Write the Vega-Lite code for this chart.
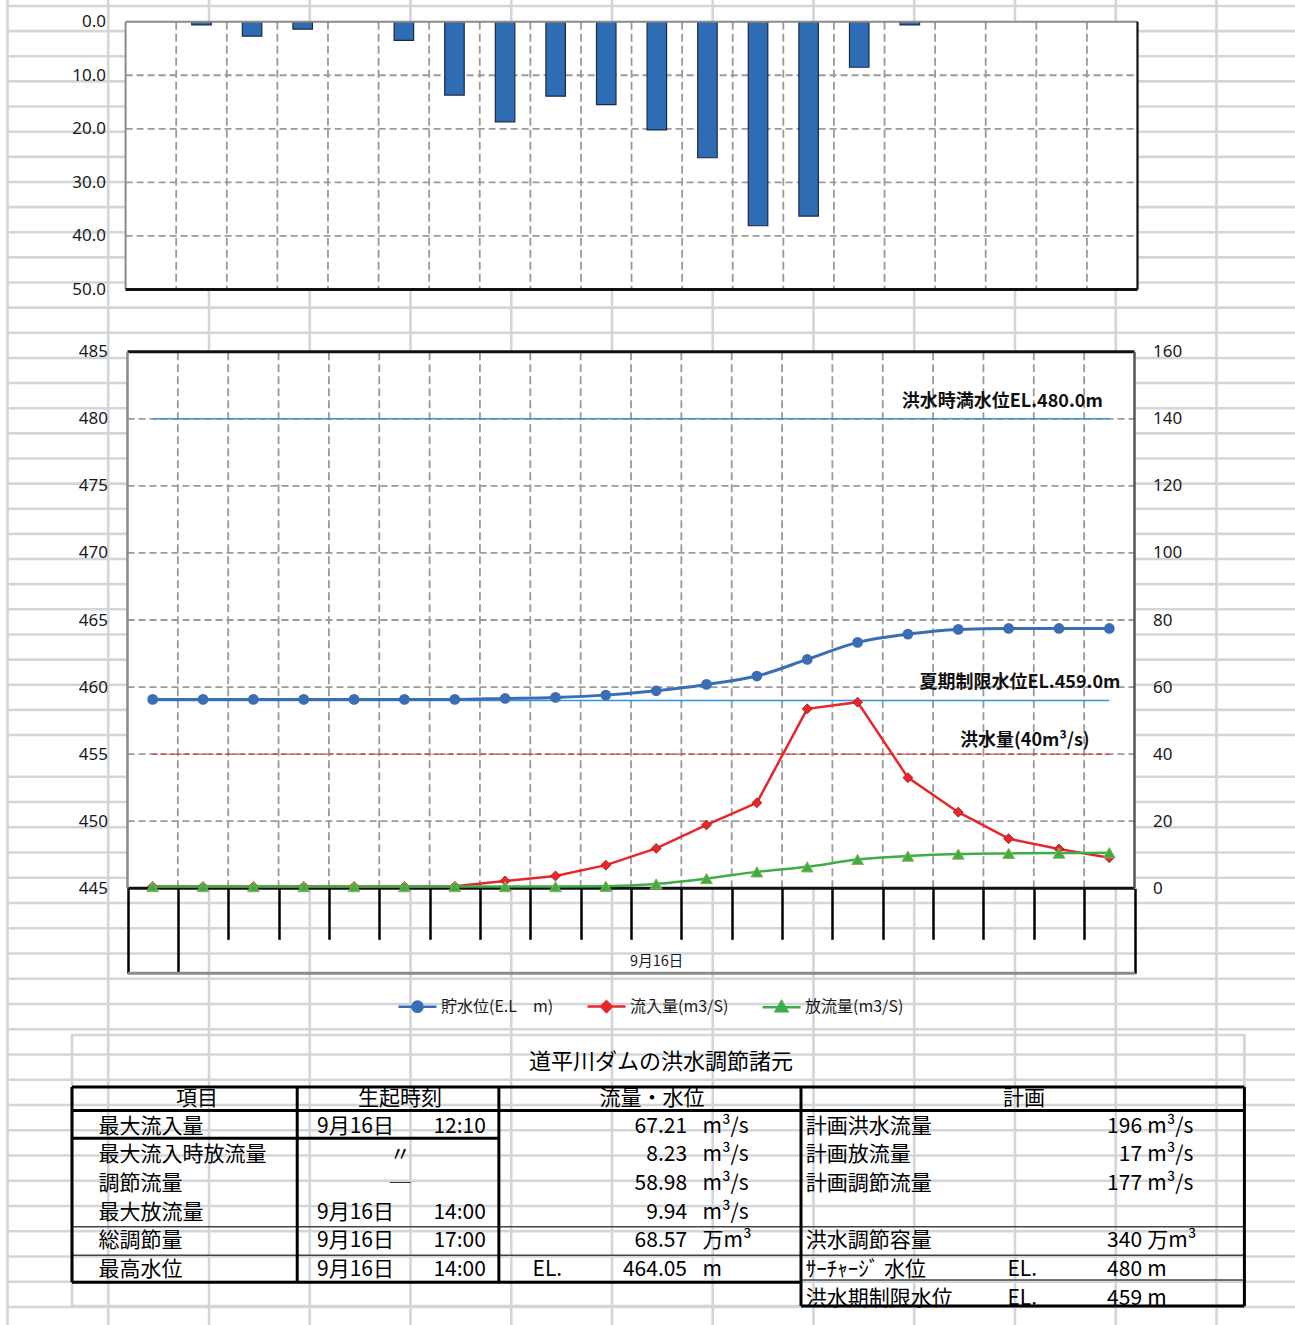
{
  "$schema": "https://vega.github.io/schema/vega-lite/v6.json",
  "width": 1295,
  "height": 1325,
  "autosize": {"type": "none"},
  "padding": 0,
  "background": "#ffffff",
  "config": {
    "view": {"stroke": null},
    "axis": {"labelFont": "Noto Sans", "labelFontSize": 17, "labelColor": "#1a1a1a", "grid": false, "labelFlush": false, "labelOverlap": false, "labelBound": false},
    "legend": {"labelFont": "Noto Sans CJK JP", "labelFontSize": 16, "labelColor": "#1a1a1a"}
  },
  "datasets": {
    "sheetCols": [{"c":0},{"c":1},{"c":2},{"c":3},{"c":4},{"c":5},{"c":6},{"c":7},{"c":8},{"c":9},{"c":10},{"c":11},{"c":12}],
    "sheetRows": [{"k":0},{"k":1},{"k":2},{"k":3},{"k":4},{"k":5},{"k":6},{"k":7},{"k":8},{"k":9},{"k":10},{"k":11},{"k":12},{"k":13},{"k":14},{"k":15},{"k":16},{"k":17},{"k":18},{"k":19},{"k":20},{"k":21},{"k":22},{"k":23},{"k":24},{"k":25},{"k":26},{"k":27},{"k":28},{"k":29},{"k":30},{"k":31},{"k":32},{"k":33},{"k":34},{"k":35},{"k":36},{"k":37},{"k":38},{"k":39},{"k":40},{"k":41},{"k":42},{"k":43},{"k":44},{"k":45},{"k":46},{"k":47},{"k":48},{"k":49},{"k":50},{"k":51}],
    "series": [
      {"idx":0,"rain":0,"level":459.08,"inflow":0.5,"outflow":0.5},
      {"idx":1,"rain":0.6,"level":459.08,"inflow":0.5,"outflow":0.5},
      {"idx":2,"rain":2.7,"level":459.08,"inflow":0.5,"outflow":0.5},
      {"idx":3,"rain":1.4,"level":459.08,"inflow":0.5,"outflow":0.5},
      {"idx":4,"rain":0,"level":459.08,"inflow":0.5,"outflow":0.5},
      {"idx":5,"rain":3.5,"level":459.08,"inflow":0.5,"outflow":0.5},
      {"idx":6,"rain":13.7,"level":459.08,"inflow":0.6,"outflow":0.5},
      {"idx":7,"rain":18.7,"level":459.15,"inflow":2.2,"outflow":0.5},
      {"idx":8,"rain":13.9,"level":459.23,"inflow":3.7,"outflow":0.5},
      {"idx":9,"rain":15.5,"level":459.4,"inflow":6.9,"outflow":0.6},
      {"idx":10,"rain":20.2,"level":459.72,"inflow":11.9,"outflow":1.3},
      {"idx":11,"rain":25.4,"level":460.2,"inflow":18.9,"outflow":2.9},
      {"idx":12,"rain":38.1,"level":460.82,"inflow":25.5,"outflow":4.9},
      {"idx":13,"rain":36.3,"level":462.06,"inflow":53.5,"outflow":6.4},
      {"idx":14,"rain":8.5,"level":463.33,"inflow":55.5,"outflow":8.6},
      {"idx":15,"rain":0.6,"level":463.95,"inflow":33.0,"outflow":9.6},
      {"idx":16,"rain":0,"level":464.3,"inflow":22.7,"outflow":10.2},
      {"idx":17,"rain":0,"level":464.37,"inflow":14.8,"outflow":10.4},
      {"idx":18,"rain":0,"level":464.37,"inflow":11.7,"outflow":10.5},
      {"idx":19,"rain":0,"level":464.37,"inflow":9.1,"outflow":10.6}
    ],
    "xticks": [{"v":0.5},{"v":1.5},{"v":2.5},{"v":3.5},{"v":4.5},{"v":5.5},{"v":6.5},{"v":7.5},{"v":8.5},{"v":9.5},{"v":10.5},{"v":11.5},{"v":12.5},{"v":13.5},{"v":14.5},{"v":15.5},{"v":16.5},{"v":17.5},{"v":18.5}],
    "ticksRain": [{"v":10},{"v":20},{"v":30},{"v":40}],
    "ticksLevel": [{"v":450},{"v":455},{"v":460},{"v":465},{"v":470},{"v":475},{"v":480}],
    "refs": [
      {"kind":"full","level":480,"label":"洪水時満水位EL.480.0m"},
      {"kind":"summer","level":459,"label":"夏期制限水位EL.459.0m"},
      {"kind":"flood","flow":40,"label":"洪水量(40m³/s)"}
    ],
    "tableL": [
      {"r":1,"item":"最大流入量","date":"9月16日","time":"12:10","value":"67.21","unit":"m³/s"},
      {"r":2,"item":"最大流入時放流量","same":"〃","value":"8.23","unit":"m³/s"},
      {"r":3,"item":"調節流量","same":"─","value":"58.98","unit":"m³/s"},
      {"r":4,"item":"最大放流量","date":"9月16日","time":"14:00","value":"9.94","unit":"m³/s"},
      {"r":5,"item":"総調節量","date":"9月16日","time":"17:00","value":"68.57","unit":"万m³"},
      {"r":6,"item":"最高水位","date":"9月16日","time":"14:00","el":"EL.","value":"464.05","unit":"m"}
    ],
    "tableR": [
      {"r":1,"name":"計画洪水流量","value":"196","unit":"m³/s"},
      {"r":2,"name":"計画放流量","value":"17","unit":"m³/s"},
      {"r":3,"name":"計画調節流量","value":"177","unit":"m³/s"},
      {"r":5,"name":"洪水調節容量","value":"340","unit":"万m³"},
      {"r":6,"name":"ｻｰﾁｬｰｼﾞ 水位","el":"EL.","value":"480","unit":"m"},
      {"r":7,"name":"洪水期制限水位","el":"EL.","value":"459","unit":"m"}
    ]
  },
  "resolve": {"scale": {"x": "independent", "y": "independent"}},
  "layer": [
    {
      "layer": [
        {"data": {"name": "sheetCols"}, "mark": {"type": "rule", "stroke": "#d3d6d9", "strokeWidth": 2.6},
         "encoding": {"x": {"field": "c", "type": "quantitative", "scale": {"domain": [0, 12], "range": [7.5, 1216.5], "nice": false, "zero": false}, "axis": null}}},
        {"data": {"name": "sheetRows"}, "mark": {"type": "rule", "stroke": "#d3d6d9", "strokeWidth": 2.6},
         "encoding": {
           "y": {"field": "k", "type": "quantitative", "scale": {"domain": [0, 29, 30, 51], "range": [6, 735, 776.7, 1307], "nice": false, "zero": false}, "axis": null},
           "x": {"datum": 0, "type": "quantitative", "scale": {"domain": [0, 12], "range": [7.5, 1216.5], "nice": false, "zero": false}, "axis": null},
           "x2": {"datum": 12.78}}}
      ]
    },
    {
      "layer": [
        {"data": {"values": [{}]}, "mark": {"type": "rect", "filled": false, "stroke": "#d3d6d9", "strokeWidth": 2.6},
         "encoding": {"x": {"datum": 0, "type": "quantitative", "scale": {"domain": [0, 100], "range": [72, 1244.4], "nice": false, "zero": false}, "axis": null}, "x2": {"datum": 100},
                      "y": {"datum": -2.2, "type": "quantitative", "scale": {"domain": [0, 6], "range": [1098, 1270], "nice": false, "zero": false}, "axis": null}, "y2": {"datum": 7.26}}},
        {"data": {"values": [{}]}, "mark": {"type": "text", "align": "center", "baseline": "middle", "font": "Noto Sans CJK JP", "fontSize": 22, "color": "#000"},
         "encoding": {"x": {"datum": 50.24, "type": "quantitative", "scale": {"domain": [0, 100], "range": [72, 1244.4], "nice": false, "zero": false}, "axis": null},
                      "y": {"datum": -1.27, "type": "quantitative", "scale": {"domain": [0, 6], "range": [1098, 1270], "nice": false, "zero": false}, "axis": null},
                      "text": {"value": "道平川ダムの洪水調節諸元"}}},
        {"data": {"values": [{}]}, "mark": {"type": "text", "align": "center", "baseline": "middle", "font": "Noto Sans CJK JP", "fontSize": 21, "color": "#000"},
         "encoding": {"x": {"datum": 10.66, "type": "quantitative", "scale": {"domain": [0, 100], "range": [72, 1244.4], "nice": false, "zero": false}, "axis": null},
                      "y": {"datum": 0.05, "type": "quantitative", "scale": {"domain": [0, 6], "range": [1098, 1270], "nice": false, "zero": false}, "axis": null},
                      "text": {"value": "項目"}}},
        {"data": {"values": [{}]}, "mark": {"type": "text", "align": "center", "baseline": "middle", "font": "Noto Sans CJK JP", "fontSize": 21, "color": "#000"},
         "encoding": {"x": {"datum": 27.98, "type": "quantitative", "scale": {"domain": [0, 100], "range": [72, 1244.4], "nice": false, "zero": false}, "axis": null},
                      "y": {"datum": 0.05, "type": "quantitative", "scale": {"domain": [0, 6], "range": [1098, 1270], "nice": false, "zero": false}, "axis": null},
                      "text": {"value": "生起時刻"}}},
        {"data": {"values": [{}]}, "mark": {"type": "text", "align": "center", "baseline": "middle", "font": "Noto Sans CJK JP", "fontSize": 21, "color": "#000"},
         "encoding": {"x": {"datum": 49.47, "type": "quantitative", "scale": {"domain": [0, 100], "range": [72, 1244.4], "nice": false, "zero": false}, "axis": null},
                      "y": {"datum": 0.05, "type": "quantitative", "scale": {"domain": [0, 6], "range": [1098, 1270], "nice": false, "zero": false}, "axis": null},
                      "text": {"value": "流量・水位"}}},
        {"data": {"values": [{}]}, "mark": {"type": "text", "align": "center", "baseline": "middle", "font": "Noto Sans CJK JP", "fontSize": 21, "color": "#000"},
         "encoding": {"x": {"datum": 81.2, "type": "quantitative", "scale": {"domain": [0, 100], "range": [72, 1244.4], "nice": false, "zero": false}, "axis": null},
                      "y": {"datum": 0.05, "type": "quantitative", "scale": {"domain": [0, 6], "range": [1098, 1270], "nice": false, "zero": false}, "axis": null},
                      "text": {"value": "計画"}}},
        {"data": {"name": "tableL"}, "transform": [{"filter": "isValid(datum.item)"}], "mark": {"type": "text", "align": "left", "baseline": "middle", "font": "Noto Sans CJK JP", "fontSize": 21, "color": "#000"},
         "encoding": {"x": {"datum": 2.25, "type": "quantitative", "scale": {"domain": [0, 100], "range": [72, 1244.4], "nice": false, "zero": false}, "axis": null},
                      "y": {"field": "r", "type": "quantitative", "scale": {"domain": [0, 6], "range": [1098, 1270], "nice": false, "zero": false}, "axis": null},
                      "text": {"field": "item"}}},
        {"data": {"name": "tableL"}, "transform": [{"filter": "isValid(datum.date)"}], "mark": {"type": "text", "align": "left", "baseline": "middle", "font": "Noto Sans CJK JP", "fontSize": 21, "color": "#000"},
         "encoding": {"x": {"datum": 20.9, "type": "quantitative", "scale": {"domain": [0, 100], "range": [72, 1244.4], "nice": false, "zero": false}, "axis": null},
                      "y": {"field": "r", "type": "quantitative", "scale": {"domain": [0, 6], "range": [1098, 1270], "nice": false, "zero": false}, "axis": null},
                      "text": {"field": "date"}}},
        {"data": {"name": "tableL"}, "transform": [{"filter": "isValid(datum.time)"}], "mark": {"type": "text", "align": "right", "baseline": "middle", "font": "Noto Sans CJK JP", "fontSize": 21, "color": "#000"},
         "encoding": {"x": {"datum": 35.3, "type": "quantitative", "scale": {"domain": [0, 100], "range": [72, 1244.4], "nice": false, "zero": false}, "axis": null},
                      "y": {"field": "r", "type": "quantitative", "scale": {"domain": [0, 6], "range": [1098, 1270], "nice": false, "zero": false}, "axis": null},
                      "text": {"field": "time"}}},
        {"data": {"name": "tableL"}, "transform": [{"filter": "isValid(datum.same)"}], "mark": {"type": "text", "align": "center", "baseline": "middle", "font": "Noto Sans CJK JP", "fontSize": 21, "color": "#000"},
         "encoding": {"x": {"datum": 28.0, "type": "quantitative", "scale": {"domain": [0, 100], "range": [72, 1244.4], "nice": false, "zero": false}, "axis": null},
                      "y": {"field": "r", "type": "quantitative", "scale": {"domain": [0, 6], "range": [1098, 1270], "nice": false, "zero": false}, "axis": null},
                      "text": {"field": "same"}}},
        {"data": {"name": "tableL"}, "transform": [{"filter": "isValid(datum.el)"}], "mark": {"type": "text", "align": "left", "baseline": "middle", "font": "Noto Sans CJK JP", "fontSize": 21, "color": "#000"},
         "encoding": {"x": {"datum": 39.28, "type": "quantitative", "scale": {"domain": [0, 100], "range": [72, 1244.4], "nice": false, "zero": false}, "axis": null},
                      "y": {"field": "r", "type": "quantitative", "scale": {"domain": [0, 6], "range": [1098, 1270], "nice": false, "zero": false}, "axis": null},
                      "text": {"field": "el"}}},
        {"data": {"name": "tableL"}, "mark": {"type": "text", "align": "right", "baseline": "middle", "font": "Noto Sans CJK JP", "fontSize": 21, "color": "#000"},
         "encoding": {"x": {"datum": 52.46, "type": "quantitative", "scale": {"domain": [0, 100], "range": [72, 1244.4], "nice": false, "zero": false}, "axis": null},
                      "y": {"field": "r", "type": "quantitative", "scale": {"domain": [0, 6], "range": [1098, 1270], "nice": false, "zero": false}, "axis": null},
                      "text": {"field": "value"}}},
        {"data": {"name": "tableL"}, "mark": {"type": "text", "align": "left", "baseline": "middle", "font": "Noto Sans CJK JP", "fontSize": 21, "color": "#000"},
         "encoding": {"x": {"datum": 53.78, "type": "quantitative", "scale": {"domain": [0, 100], "range": [72, 1244.4], "nice": false, "zero": false}, "axis": null},
                      "y": {"field": "r", "type": "quantitative", "scale": {"domain": [0, 6], "range": [1098, 1270], "nice": false, "zero": false}, "axis": null},
                      "text": {"field": "unit"}}},
        {"data": {"name": "tableR"}, "mark": {"type": "text", "align": "left", "baseline": "middle", "font": "Noto Sans CJK JP", "fontSize": 21, "color": "#000"},
         "encoding": {"x": {"datum": 62.59, "type": "quantitative", "scale": {"domain": [0, 100], "range": [72, 1244.4], "nice": false, "zero": false}, "axis": null},
                      "y": {"field": "r", "type": "quantitative", "scale": {"domain": [0, 6], "range": [1098, 1270], "nice": false, "zero": false}, "axis": null},
                      "text": {"field": "name"}}},
        {"data": {"name": "tableR"}, "transform": [{"filter": "isValid(datum.el)"}], "mark": {"type": "text", "align": "left", "baseline": "middle", "font": "Noto Sans CJK JP", "fontSize": 21, "color": "#000"},
         "encoding": {"x": {"datum": 79.79, "type": "quantitative", "scale": {"domain": [0, 100], "range": [72, 1244.4], "nice": false, "zero": false}, "axis": null},
                      "y": {"field": "r", "type": "quantitative", "scale": {"domain": [0, 6], "range": [1098, 1270], "nice": false, "zero": false}, "axis": null},
                      "text": {"field": "el"}}},
        {"data": {"name": "tableR"}, "mark": {"type": "text", "align": "right", "baseline": "middle", "font": "Noto Sans CJK JP", "fontSize": 21, "color": "#000"},
         "encoding": {"x": {"datum": 91.27, "type": "quantitative", "scale": {"domain": [0, 100], "range": [72, 1244.4], "nice": false, "zero": false}, "axis": null},
                      "y": {"field": "r", "type": "quantitative", "scale": {"domain": [0, 6], "range": [1098, 1270], "nice": false, "zero": false}, "axis": null},
                      "text": {"field": "value"}}},
        {"data": {"name": "tableR"}, "mark": {"type": "text", "align": "left", "baseline": "middle", "font": "Noto Sans CJK JP", "fontSize": 21, "color": "#000"},
         "encoding": {"x": {"datum": 91.71, "type": "quantitative", "scale": {"domain": [0, 100], "range": [72, 1244.4], "nice": false, "zero": false}, "axis": null},
                      "y": {"field": "r", "type": "quantitative", "scale": {"domain": [0, 6], "range": [1098, 1270], "nice": false, "zero": false}, "axis": null},
                      "text": {"field": "unit"}}},
        {"data": {"values": [{}]}, "mark": {"type": "rule", "stroke": "#000", "strokeWidth": 3},
         "encoding": {"x": {"datum": 0, "type": "quantitative", "scale": {"domain": [0, 100], "range": [72, 1244.4], "nice": false, "zero": false}, "axis": null}, "x2": {"datum": 100},
                      "y": {"datum": -0.384, "type": "quantitative", "scale": {"domain": [0, 6], "range": [1098, 1270], "nice": false, "zero": false}, "axis": null}}},
        {"data": {"values": [{}]}, "mark": {"type": "rule", "stroke": "#000", "strokeWidth": 3},
         "encoding": {"x": {"datum": 0, "type": "quantitative", "scale": {"domain": [0, 100], "range": [72, 1244.4], "nice": false, "zero": false}, "axis": null}, "x2": {"datum": 100},
                      "y": {"datum": 0.436, "type": "quantitative", "scale": {"domain": [0, 6], "range": [1098, 1270], "nice": false, "zero": false}, "axis": null}}},
        {"data": {"values": [{}]}, "mark": {"type": "rule", "stroke": "#000", "strokeWidth": 3},
         "encoding": {"x": {"datum": 0, "type": "quantitative", "scale": {"domain": [0, 100], "range": [72, 1244.4], "nice": false, "zero": false}, "axis": null}, "x2": {"datum": 36.41},
                      "y": {"datum": 1.406, "type": "quantitative", "scale": {"domain": [0, 6], "range": [1098, 1270], "nice": false, "zero": false}, "axis": null}}},
        {"data": {"values": [{}]}, "mark": {"type": "rule", "stroke": "#000", "strokeWidth": 3},
         "encoding": {"x": {"datum": 0, "type": "quantitative", "scale": {"domain": [0, 100], "range": [72, 1244.4], "nice": false, "zero": false}, "axis": null}, "x2": {"datum": 62.18},
                      "y": {"datum": 6.43, "type": "quantitative", "scale": {"domain": [0, 6], "range": [1098, 1270], "nice": false, "zero": false}, "axis": null}}},
        {"data": {"values": [{}]}, "mark": {"type": "rule", "stroke": "#000", "strokeWidth": 3},
         "encoding": {"x": {"datum": 62.18, "type": "quantitative", "scale": {"domain": [0, 100], "range": [72, 1244.4], "nice": false, "zero": false}, "axis": null}, "x2": {"datum": 100},
                      "y": {"datum": 7.256, "type": "quantitative", "scale": {"domain": [0, 6], "range": [1098, 1270], "nice": false, "zero": false}, "axis": null}}},
        {"data": {"values": [{}]}, "mark": {"type": "rule", "stroke": "#444", "strokeWidth": 1.5},
         "encoding": {"x": {"datum": 0, "type": "quantitative", "scale": {"domain": [0, 100], "range": [72, 1244.4], "nice": false, "zero": false}, "axis": null}, "x2": {"datum": 100},
                      "y": {"datum": 4.49, "type": "quantitative", "scale": {"domain": [0, 6], "range": [1098, 1270], "nice": false, "zero": false}, "axis": null}}},
        {"data": {"values": [{}]}, "mark": {"type": "rule", "stroke": "#444", "strokeWidth": 1.5},
         "encoding": {"x": {"datum": 0, "type": "quantitative", "scale": {"domain": [0, 100], "range": [72, 1244.4], "nice": false, "zero": false}, "axis": null}, "x2": {"datum": 100},
                      "y": {"datum": 5.487, "type": "quantitative", "scale": {"domain": [0, 6], "range": [1098, 1270], "nice": false, "zero": false}, "axis": null}}},
        {"data": {"values": [{}]}, "mark": {"type": "rule", "stroke": "#444", "strokeWidth": 1.5},
         "encoding": {"x": {"datum": 62.18, "type": "quantitative", "scale": {"domain": [0, 100], "range": [72, 1244.4], "nice": false, "zero": false}, "axis": null}, "x2": {"datum": 100},
                      "y": {"datum": 6.35, "type": "quantitative", "scale": {"domain": [0, 6], "range": [1098, 1270], "nice": false, "zero": false}, "axis": null}}},
        {"data": {"values": [{}]}, "mark": {"type": "rule", "stroke": "#000", "strokeWidth": 3},
         "encoding": {"x": {"datum": 0, "type": "quantitative", "scale": {"domain": [0, 100], "range": [72, 1244.4], "nice": false, "zero": false}, "axis": null},
                      "y": {"datum": -0.384, "type": "quantitative", "scale": {"domain": [0, 6], "range": [1098, 1270], "nice": false, "zero": false}, "axis": null}, "y2": {"datum": 6.43}}},
        {"data": {"values": [{}]}, "mark": {"type": "rule", "stroke": "#000", "strokeWidth": 3},
         "encoding": {"x": {"datum": 19.21, "type": "quantitative", "scale": {"domain": [0, 100], "range": [72, 1244.4], "nice": false, "zero": false}, "axis": null},
                      "y": {"datum": -0.384, "type": "quantitative", "scale": {"domain": [0, 6], "range": [1098, 1270], "nice": false, "zero": false}, "axis": null}, "y2": {"datum": 6.43}}},
        {"data": {"values": [{}]}, "mark": {"type": "rule", "stroke": "#000", "strokeWidth": 3},
         "encoding": {"x": {"datum": 36.41, "type": "quantitative", "scale": {"domain": [0, 100], "range": [72, 1244.4], "nice": false, "zero": false}, "axis": null},
                      "y": {"datum": -0.384, "type": "quantitative", "scale": {"domain": [0, 6], "range": [1098, 1270], "nice": false, "zero": false}, "axis": null}, "y2": {"datum": 6.43}}},
        {"data": {"values": [{}]}, "mark": {"type": "rule", "stroke": "#000", "strokeWidth": 3},
         "encoding": {"x": {"datum": 62.18, "type": "quantitative", "scale": {"domain": [0, 100], "range": [72, 1244.4], "nice": false, "zero": false}, "axis": null},
                      "y": {"datum": -0.384, "type": "quantitative", "scale": {"domain": [0, 6], "range": [1098, 1270], "nice": false, "zero": false}, "axis": null}, "y2": {"datum": 7.256}}},
        {"data": {"values": [{}]}, "mark": {"type": "rule", "stroke": "#000", "strokeWidth": 3},
         "encoding": {"x": {"datum": 100, "type": "quantitative", "scale": {"domain": [0, 100], "range": [72, 1244.4], "nice": false, "zero": false}, "axis": null},
                      "y": {"datum": -0.384, "type": "quantitative", "scale": {"domain": [0, 6], "range": [1098, 1270], "nice": false, "zero": false}, "axis": null}, "y2": {"datum": 7.256}}}
      ]
    },
    {
      "resolve": {"axis": {"y": "independent"}},
      "layer": [
        {"data": {"values": [{}]}, "mark": {"type": "rect", "fill": "#ffffff"},
         "encoding": {"x": {"datum": -0.5, "type": "quantitative", "scale": {"domain": [-0.5, 19.5], "range": [125.6, 1137.5], "nice": false, "zero": false, "padding": 0}, "axis": null}, "x2": {"datum": 19.5},
                      "y": {"datum": 0, "type": "quantitative", "scale": {"domain": [0, 50], "range": [21.7, 289.5], "nice": false, "zero": false, "padding": 0}, "axis": null}, "y2": {"datum": 50}}},
        {"data": {"name": "ticksRain"}, "mark": {"type": "rule", "stroke": "#9a9a9a", "strokeWidth": 1.8, "strokeDash": [7, 4]},
         "encoding": {"y": {"field": "v", "type": "quantitative", "scale": {"domain": [0, 50], "range": [21.7, 289.5], "nice": false, "zero": false, "padding": 0}, "axis": null},
                      "x": {"datum": -0.5, "type": "quantitative", "scale": {"domain": [-0.5, 19.5], "range": [125.6, 1137.5], "nice": false, "zero": false, "padding": 0}, "axis": null}, "x2": {"datum": 19.5}}},
        {"data": {"name": "xticks"}, "mark": {"type": "rule", "stroke": "#9a9a9a", "strokeWidth": 1.8, "strokeDash": [8, 4]},
         "encoding": {"x": {"field": "v", "type": "quantitative", "scale": {"domain": [-0.5, 19.5], "range": [125.6, 1137.5], "nice": false, "zero": false, "padding": 0}, "axis": null},
                      "y": {"datum": 0, "type": "quantitative", "scale": {"domain": [0, 50], "range": [21.7, 289.5], "nice": false, "zero": false, "padding": 0}, "axis": null}, "y2": {"datum": 50}}},
        {"data": {"name": "series"}, "transform": [{"filter": "datum.rain > 0"}],
         "mark": {"type": "bar", "width": 19.5, "fill": "#2e6db4", "stroke": "#1b2a44", "strokeWidth": 1.2},
         "encoding": {"x": {"field": "idx", "type": "quantitative", "scale": {"domain": [-0.5, 19.5], "range": [125.6, 1137.5], "nice": false, "zero": false, "padding": 0}, "axis": null},
                      "y": {"field": "rain", "type": "quantitative", "scale": {"domain": [0, 50], "range": [21.7, 289.5], "nice": false, "zero": false, "padding": 0},
                            "axis": {"orient": "left", "offset": -125.6, "values": [0, 10, 20, 30, 40, 50], "format": ".1f", "title": null, "ticks": false, "domain": false, "grid": false, "labelPadding": 20, "zindex": 1}}}},
        {"data": {"values": [{}]}, "mark": {"type": "rule", "stroke": "#8a8a8a", "strokeWidth": 2},
         "encoding": {"x": {"datum": -0.5, "type": "quantitative", "scale": {"domain": [-0.5, 19.5], "range": [125.6, 1137.5], "nice": false, "zero": false, "padding": 0}, "axis": null}, "x2": {"datum": 19.5},
                      "y": {"datum": 0, "type": "quantitative", "scale": {"domain": [0, 50], "range": [21.7, 289.5], "nice": false, "zero": false, "padding": 0}, "axis": null}}},
        {"data": {"values": [{}]}, "mark": {"type": "rule", "stroke": "#8a8a8a", "strokeWidth": 2},
         "encoding": {"x": {"datum": -0.5, "type": "quantitative", "scale": {"domain": [-0.5, 19.5], "range": [125.6, 1137.5], "nice": false, "zero": false, "padding": 0}, "axis": null},
                      "y": {"datum": 0, "type": "quantitative", "scale": {"domain": [0, 50], "range": [21.7, 289.5], "nice": false, "zero": false, "padding": 0}, "axis": null}, "y2": {"datum": 50}}},
        {"data": {"values": [{}]}, "mark": {"type": "rule", "stroke": "#111111", "strokeWidth": 2.2},
         "encoding": {"x": {"datum": 19.5, "type": "quantitative", "scale": {"domain": [-0.5, 19.5], "range": [125.6, 1137.5], "nice": false, "zero": false, "padding": 0}, "axis": null},
                      "y": {"datum": 0, "type": "quantitative", "scale": {"domain": [0, 50], "range": [21.7, 289.5], "nice": false, "zero": false, "padding": 0}, "axis": null}, "y2": {"datum": 50}}},
        {"data": {"values": [{}]}, "mark": {"type": "rule", "stroke": "#111111", "strokeWidth": 3},
         "encoding": {"x": {"datum": -0.5, "type": "quantitative", "scale": {"domain": [-0.5, 19.5], "range": [125.6, 1137.5], "nice": false, "zero": false, "padding": 0}, "axis": null}, "x2": {"datum": 19.5},
                      "y": {"datum": 50, "type": "quantitative", "scale": {"domain": [0, 50], "range": [21.7, 289.5], "nice": false, "zero": false, "padding": 0}, "axis": null}}}
      ]
    },
    {
      "resolve": {"axis": {"x": "independent", "y": "independent"}},
      "layer": [
        {"data": {"values": [{}]}, "mark": {"type": "rect", "fill": "#ffffff"},
         "encoding": {"x": {"datum": -0.5, "type": "quantitative", "scale": {"domain": [-0.5, 19.5], "range": [127.5, 1134.5], "nice": false, "zero": false, "padding": 0},
                            "axis": {"orient": "bottom", "offset": -436.7, "values": [-0.5, 0.5, 19.5], "labels": false, "domain": false, "ticks": true, "tickSize": 85, "tickWidth": 2.5, "tickColor": "#000000", "grid": false, "title": null, "zindex": 1}},
                      "x2": {"datum": 19.5},
                      "y": {"datum": 445, "type": "quantitative", "scale": {"domain": [445, 485], "range": [888.3, 351.7], "nice": false, "zero": false, "padding": 0}, "axis": null}, "y2": {"datum": 485}}},
        {"data": {"name": "ticksLevel"}, "mark": {"type": "rule", "stroke": "#9a9a9a", "strokeWidth": 1.8, "strokeDash": [7, 4]},
         "encoding": {"y": {"field": "v", "type": "quantitative", "scale": {"domain": [445, 485], "range": [888.3, 351.7], "nice": false, "zero": false, "padding": 0}, "axis": null},
                      "x": {"datum": -0.5, "type": "quantitative", "scale": {"domain": [-0.5, 19.5], "range": [127.5, 1134.5], "nice": false, "zero": false, "padding": 0}, "axis": null}, "x2": {"datum": 19.5}}},
        {"data": {"name": "xticks"}, "mark": {"type": "rule", "stroke": "#9a9a9a", "strokeWidth": 1.8, "strokeDash": [8, 4]},
         "encoding": {"x": {"field": "v", "type": "quantitative", "scale": {"domain": [-0.5, 19.5], "range": [127.5, 1134.5], "nice": false, "zero": false, "padding": 0}, "axis": null},
                      "y": {"datum": 445, "type": "quantitative", "scale": {"domain": [445, 485], "range": [888.3, 351.7], "nice": false, "zero": false, "padding": 0}, "axis": null}, "y2": {"datum": 485}}},
        {"data": {"name": "refs"}, "transform": [{"filter": "datum.kind === 'full'"}], "mark": {"type": "rule", "stroke": "#4a8ac8", "strokeWidth": 1.6},
         "encoding": {"y": {"field": "level", "type": "quantitative", "scale": {"domain": [445, 485], "range": [888.3, 351.7], "nice": false, "zero": false, "padding": 0}, "axis": null},
                      "x": {"datum": 0, "type": "quantitative", "scale": {"domain": [-0.5, 19.5], "range": [127.5, 1134.5], "nice": false, "zero": false, "padding": 0},
                            "axis": {"orient": "bottom", "offset": -352.3, "values": [10], "labelExpr": "'9月16日'", "domain": true, "domainColor": "#8c8c8c", "domainWidth": 3, "ticks": false, "tickSize": 0, "labelPadding": -11, "labelBaseline": "middle", "labelFont": "Noto Sans CJK JP", "labelFontSize": 14.5, "grid": false, "title": null, "zindex": 1}},
                      "x2": {"datum": 19}}},
        {"data": {"name": "refs"}, "transform": [{"filter": "datum.kind === 'summer'"}], "mark": {"type": "rule", "stroke": "#2f95e0", "strokeWidth": 1.6},
         "encoding": {"y": {"field": "level", "type": "quantitative", "scale": {"domain": [445, 485], "range": [888.3, 351.7], "nice": false, "zero": false, "padding": 0}, "axis": null},
                      "x": {"datum": 0, "type": "quantitative", "scale": {"domain": [-0.5, 19.5], "range": [127.5, 1134.5], "nice": false, "zero": false, "padding": 0}, "axis": null}, "x2": {"datum": 19}}},
        {"data": {"name": "series"},
         "mark": {"type": "line", "strokeWidth": 3, "interpolate": "monotone", "point": {"shape": "circle", "size": 115, "filled": true}},
         "encoding": {"x": {"field": "idx", "type": "quantitative", "scale": {"domain": [-0.5, 19.5], "range": [127.5, 1134.5], "nice": false, "zero": false, "padding": 0},
                            "axis": {"orient": "bottom", "offset": -436.7, "values": [1.5, 2.5, 3.5, 4.5, 5.5, 6.5, 7.5, 8.5, 9.5, 10.5, 11.5, 12.5, 13.5, 14.5, 15.5, 16.5, 17.5, 18.5], "labels": false, "domain": false, "ticks": true, "tickSize": 51, "tickWidth": 2.5, "tickColor": "#000000", "grid": false, "title": null, "zindex": 1}},
                      "y": {"field": "level", "type": "quantitative", "scale": {"domain": [445, 485], "range": [888.3, 351.7], "nice": false, "zero": false, "padding": 0},
                            "axis": {"orient": "left", "offset": -127.5, "values": [445, 450, 455, 460, 465, 470, 475, 480, 485], "title": null, "ticks": false, "domain": false, "grid": false, "labelPadding": 20, "zindex": 1}},
                      "color": {"datum": "貯水位(E.L　m)",
                                "scale": {"domain": ["貯水位(E.L　m)", "流入量(m3/S)", "放流量(m3/S)"], "range": ["#3b6db4", "#e8262a", "#3cae49"]},
                                "legend": {"title": null, "orient": "none", "legendX": 397, "legendY": 986, "direction": "horizontal", "columns": 3, "gridAlign": "each", "columnPadding": 28, "symbolSize": 1444, "symbolStrokeWidth": 2.5, "labelOffset": 3,
                                           "encode": {"symbols": {"update": {
                                             "shape": {"signal": "datum.value === '貯水位(E.L　m)' ? 'M-1,0L1,0M-0.27,0A0.27,0.27 0 1,0 0.27,0A0.27,0.27 0 1,0 -0.27,0Z' : (datum.value === '流入量(m3/S)' ? 'M-1,0L1,0M0,-0.28L0.28,0L0,0.28L-0.28,0Z' : 'M-1,0L1,0M0,-0.3L0.3,0.22L-0.3,0.22Z')"},
                                             "fill": {"signal": "datum.value === '貯水位(E.L　m)' ? '#4a78b8' : (datum.value === '流入量(m3/S)' ? '#e5262b' : '#3f9f3f')"},
                                             "stroke": {"signal": "datum.value === '貯水位(E.L　m)' ? '#3b6db4' : (datum.value === '流入量(m3/S)' ? '#e8262a' : '#3cae49')"},
                                             "strokeWidth": {"value": 2.5},
                                             "opacity": {"value": 1}}}}}}}},
        {"data": {"values": [{}]}, "mark": {"type": "rule", "stroke": "#111111", "strokeWidth": 3},
         "encoding": {"x": {"datum": -0.5, "type": "quantitative", "scale": {"domain": [-0.5, 19.5], "range": [127.5, 1134.5], "nice": false, "zero": false, "padding": 0}, "axis": null}, "x2": {"datum": 19.5},
                      "y": {"datum": 485, "type": "quantitative", "scale": {"domain": [445, 485], "range": [888.3, 351.7], "nice": false, "zero": false, "padding": 0}, "axis": null}}},
        {"data": {"values": [{}]}, "mark": {"type": "rule", "stroke": "#111111", "strokeWidth": 3},
         "encoding": {"x": {"datum": -0.5, "type": "quantitative", "scale": {"domain": [-0.5, 19.5], "range": [127.5, 1134.5], "nice": false, "zero": false, "padding": 0}, "axis": null}, "x2": {"datum": 19.5},
                      "y": {"datum": 445, "type": "quantitative", "scale": {"domain": [445, 485], "range": [888.3, 351.7], "nice": false, "zero": false, "padding": 0}, "axis": null}}},
        {"data": {"values": [{}]}, "mark": {"type": "rule", "stroke": "#8a8a8a", "strokeWidth": 2.5},
         "encoding": {"x": {"datum": -0.5, "type": "quantitative", "scale": {"domain": [-0.5, 19.5], "range": [127.5, 1134.5], "nice": false, "zero": false, "padding": 0}, "axis": null},
                      "y": {"datum": 445, "type": "quantitative", "scale": {"domain": [445, 485], "range": [888.3, 351.7], "nice": false, "zero": false, "padding": 0}, "axis": null}, "y2": {"datum": 485}}},
        {"data": {"values": [{}]}, "mark": {"type": "rule", "stroke": "#555555", "strokeWidth": 2.5},
         "encoding": {"x": {"datum": 19.5, "type": "quantitative", "scale": {"domain": [-0.5, 19.5], "range": [127.5, 1134.5], "nice": false, "zero": false, "padding": 0}, "axis": null},
                      "y": {"datum": 445, "type": "quantitative", "scale": {"domain": [445, 485], "range": [888.3, 351.7], "nice": false, "zero": false, "padding": 0}, "axis": null}, "y2": {"datum": 485}}},
        {"data": {"name": "refs"}, "transform": [{"filter": "datum.kind === 'full'"}],
         "mark": {"type": "text", "align": "right", "baseline": "middle", "dy": -17, "font": "Noto Sans CJK JP", "fontSize": 18, "fontWeight": "bold", "color": "#111"},
         "encoding": {"x": {"datum": 18.87, "type": "quantitative", "scale": {"domain": [-0.5, 19.5], "range": [127.5, 1134.5], "nice": false, "zero": false, "padding": 0}, "axis": null},
                      "y": {"field": "level", "type": "quantitative", "scale": {"domain": [445, 485], "range": [888.3, 351.7], "nice": false, "zero": false, "padding": 0}, "axis": null},
                      "text": {"field": "label"}}},
        {"data": {"name": "refs"}, "transform": [{"filter": "datum.kind === 'summer'"}],
         "mark": {"type": "text", "align": "right", "baseline": "middle", "dy": -17, "font": "Noto Sans CJK JP", "fontSize": 18, "fontWeight": "bold", "color": "#111"},
         "encoding": {"x": {"datum": 19.22, "type": "quantitative", "scale": {"domain": [-0.5, 19.5], "range": [127.5, 1134.5], "nice": false, "zero": false, "padding": 0}, "axis": null},
                      "y": {"field": "level", "type": "quantitative", "scale": {"domain": [445, 485], "range": [888.3, 351.7], "nice": false, "zero": false, "padding": 0}, "axis": null},
                      "text": {"field": "label"}}}
      ]
    },
    {
      "resolve": {"axis": {"y": "independent"}},
      "layer": [
        {"data": {"name": "refs"}, "transform": [{"filter": "datum.kind === 'flood'"}], "mark": {"type": "rule", "stroke": "#e03030", "strokeWidth": 1.4, "strokeDash": [5, 3]},
         "encoding": {"y": {"field": "flow", "type": "quantitative", "scale": {"domain": [0, 160], "range": [888.3, 351.7], "nice": false, "zero": false, "padding": 0}, "axis": null},
                      "x": {"datum": 0, "type": "quantitative", "scale": {"domain": [-0.5, 19.5], "range": [127.5, 1134.5], "nice": false, "zero": false, "padding": 0}, "axis": null}, "x2": {"datum": 19}}},
        {"data": {"name": "series"},
         "mark": {"type": "line", "strokeWidth": 2.5, "point": {"shape": "diamond", "size": 100, "filled": true, "stroke": "#a01c1c", "strokeWidth": 0.8}},
         "encoding": {"x": {"field": "idx", "type": "quantitative", "scale": {"domain": [-0.5, 19.5], "range": [127.5, 1134.5], "nice": false, "zero": false, "padding": 0}, "axis": null},
                      "y": {"field": "inflow", "type": "quantitative", "scale": {"domain": [0, 160], "range": [888.3, 351.7], "nice": false, "zero": false, "padding": 0},
                            "axis": {"orient": "right", "offset": -160.5, "values": [0, 20, 40, 60, 80, 100, 120, 140, 160], "title": null, "ticks": false, "domain": false, "grid": false, "labelPadding": 18, "zindex": 1}},
                      "color": {"datum": "流入量(m3/S)",
                                "scale": {"domain": ["貯水位(E.L　m)", "流入量(m3/S)", "放流量(m3/S)"], "range": ["#3b6db4", "#e8262a", "#3cae49"]}}}},
        {"data": {"name": "series"},
         "mark": {"type": "line", "strokeWidth": 2.5, "interpolate": "monotone", "point": {"shape": "triangle-up", "size": 140, "filled": true, "stroke": "#9aae4c", "strokeWidth": 1}},
         "encoding": {"x": {"field": "idx", "type": "quantitative", "scale": {"domain": [-0.5, 19.5], "range": [127.5, 1134.5], "nice": false, "zero": false, "padding": 0}, "axis": null},
                      "y": {"field": "outflow", "type": "quantitative", "scale": {"domain": [0, 160], "range": [888.3, 351.7], "nice": false, "zero": false, "padding": 0}, "axis": null},
                      "color": {"datum": "放流量(m3/S)",
                                "scale": {"domain": ["貯水位(E.L　m)", "流入量(m3/S)", "放流量(m3/S)"], "range": ["#3b6db4", "#e8262a", "#3cae49"]}}}},
        {"data": {"name": "refs"}, "transform": [{"filter": "datum.kind === 'flood'"}],
         "mark": {"type": "text", "align": "right", "baseline": "middle", "dy": -13, "font": "Noto Sans CJK JP", "fontSize": 18, "fontWeight": "bold", "color": "#111"},
         "encoding": {"x": {"datum": 18.61, "type": "quantitative", "scale": {"domain": [-0.5, 19.5], "range": [127.5, 1134.5], "nice": false, "zero": false, "padding": 0}, "axis": null},
                      "y": {"field": "flow", "type": "quantitative", "scale": {"domain": [0, 160], "range": [888.3, 351.7], "nice": false, "zero": false, "padding": 0}, "axis": null},
                      "text": {"field": "label"}}}
      ]
    }
  ]
}
